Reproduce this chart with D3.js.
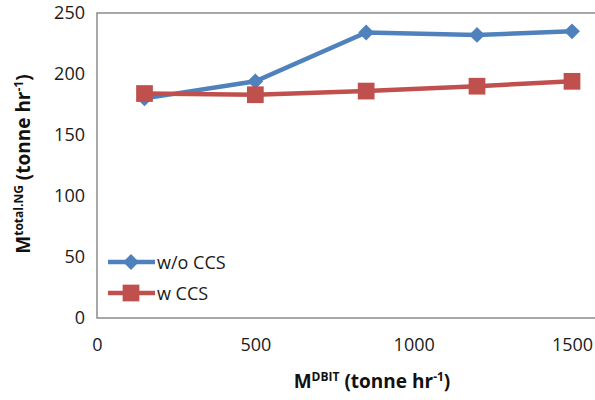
<!DOCTYPE html>
<html>
<head>
<meta charset="utf-8">
<script src="https://cdn.jsdelivr.net/npm/d3@7"></script>
<style>
  body { margin: 0; background: #fff; }
  svg text { font-family: "Open Sans", "Liberation Sans", sans-serif; }
</style>
</head>
<body>
<svg id="chart" width="595" height="400"></svg>
<script>
// data
var xVals = [150, 500, 850, 1200, 1500];
var woCCS = [180, 194, 234, 232, 235];
var wCCS = [184, 183, 186, 190, 194];
var xTicks = [0, 500, 1000, 1500];
var yTicks = [0, 50, 100, 150, 200, 250];
var seriesNames = ["w/o CCS", "w CCS"];

var svg = d3.select("#chart");
var L = 97, T = 13, B = 318, R = 610;

var x = d3.scaleLinear().domain([0, 1500]).range([L, 572]);
var y = d3.scaleLinear().domain([0, 250]).range([B, T]);

// plot frame
svg.append("rect")
    .attr("x", L).attr("y", T)
    .attr("width", R - L).attr("height", B - T)
    .attr("fill", "none").attr("stroke", "#8c8c8c").attr("stroke-width", 1.5);

// axes (labels only, Excel style)
var yAxis = svg.append("g").attr("transform", "translate(" + L + ",0)")
    .call(d3.axisLeft(y).tickValues(yTicks).tickFormat(d3.format("d")).tickSize(0).tickPadding(12));
yAxis.select(".domain").remove();
yAxis.selectAll("text").attr("font-size", 18).attr("fill", "#1a1a1a");

var xAxis = svg.append("g").attr("transform", "translate(0," + B + ")")
    .call(d3.axisBottom(x).tickValues(xTicks).tickFormat(d3.format("d")).tickSize(0).tickPadding(20));
xAxis.select(".domain").remove();
xAxis.selectAll("text").attr("font-size", 18).attr("fill", "#1a1a1a");

// axis titles with superscripts
function addTitle(t, sup){
    t.append("tspan").text("M");
    t.append("tspan").attr("font-size", 12).attr("dy", -7).text(sup);
    t.append("tspan").attr("dy", 7).text(" (tonne hr");
    t.append("tspan").attr("font-size", 12).attr("dy", -7).text("-1");
    t.append("tspan").attr("dy", 7).text(")");
}
addTitle(svg.append("text").attr("x", 372).attr("y", 388)
    .attr("text-anchor", "middle").attr("font-weight", "bold").attr("font-size", 19).attr("fill", "#111"), "DBIT");
addTitle(svg.append("text").attr("transform", "translate(30,164) rotate(-90)")
    .attr("text-anchor", "middle").attr("font-weight", "bold").attr("font-size", 19).attr("fill", "#111"), "total.NG");

// series
var line = d3.line().x(function(d){ return x(d[0]); }).y(function(d){ return y(d[1]); });
var series = [
    {name: seriesNames[0], vals: woCCS, color: "#4f81bd", rot: 45, size: 125},
    {name: seriesNames[1], vals: wCCS, color: "#c0504d", rot: 0, size: 280}
];

series.forEach(function(s){
    var pts = d3.zip(xVals, s.vals);
    svg.append("path").datum(pts).attr("d", line)
        .attr("fill", "none").attr("stroke", s.color).attr("stroke-width", 4.5);
    svg.selectAll(null).data(pts).enter().append("path")
        .attr("transform", function(d){ return "translate(" + x(d[0]) + "," + y(d[1]) + ") rotate(" + s.rot + ")"; })
        .attr("d", d3.symbol().type(d3.symbolSquare).size(s.size))
        .attr("fill", s.color);
});

// legend
var leg = svg.append("g");
series.forEach(function(s, i){
    var ly = 262 + i * 31;
    leg.append("line").attr("x1", 108).attr("x2", 155).attr("y1", ly).attr("y2", ly)
        .attr("stroke", s.color).attr("stroke-width", 4.5);
    leg.append("path").attr("transform", "translate(131," + ly + ") rotate(" + s.rot + ")")
        .attr("d", d3.symbol().type(d3.symbolSquare).size(s.size)).attr("fill", s.color);
    leg.append("text").attr("x", 157).attr("y", ly + 7)
        .attr("font-size", 18).attr("fill", "#1a1a1a").text(s.name);
});
</script>
</body>
</html>
